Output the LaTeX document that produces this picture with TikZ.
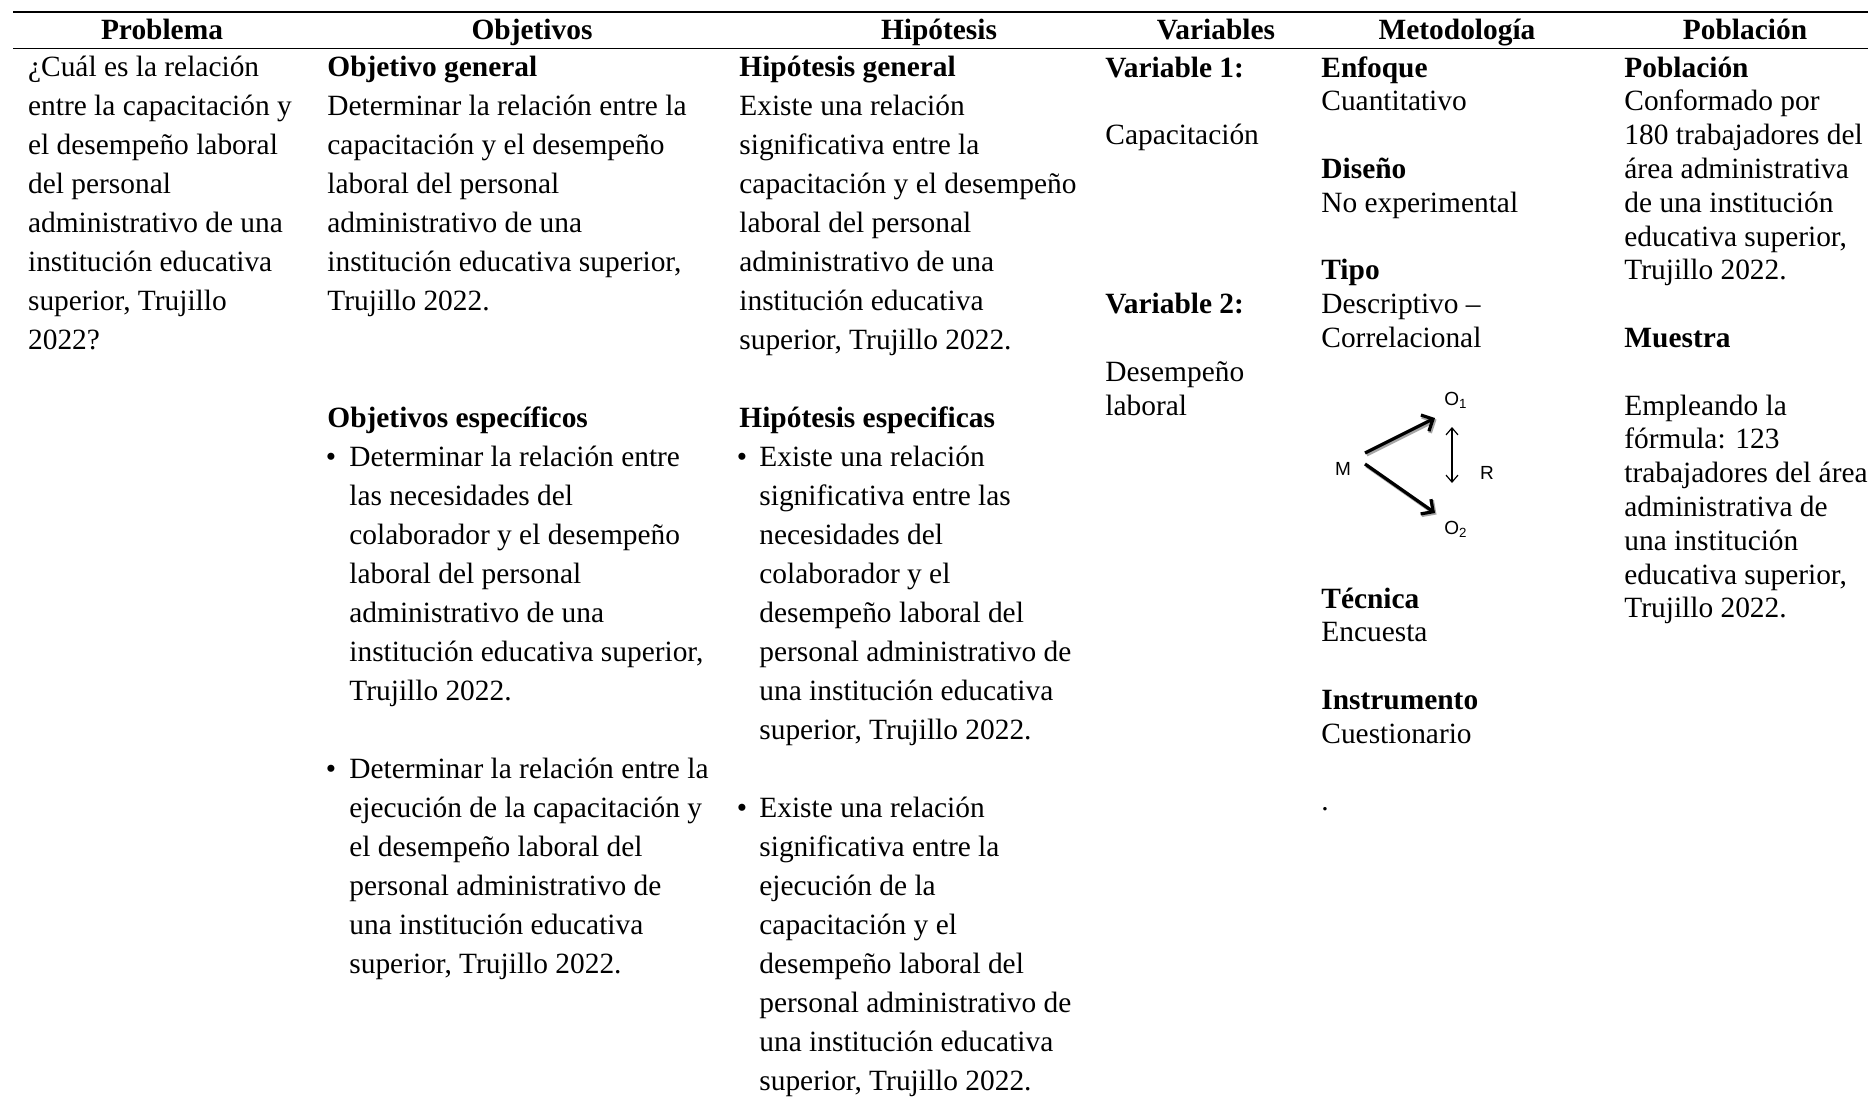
\documentclass[tikz,border=0pt]{standalone}
\usepackage{fontspec}
\setmainfont{Liberation Serif}
\newfontfamily\diagfont{Liberation Sans}
\usetikzlibrary{arrows.meta}
\newcommand{\mylines}[1]{\begin{tabular}[t]{@{}l@{}}#1\end{tabular}}
\tikzset{
  body/.style={anchor=base west, inner sep=0pt, font=\fontsize{14.7}{19.5}\selectfont},
  bodyb/.style={anchor=base west, inner sep=0pt, font=\fontsize{14.7}{16.9}\selectfont},
  head/.style={anchor=base, inner sep=0pt, font=\fontsize{14.7}{16.8}\selectfont\bfseries},
  bul/.style={anchor=base, inner sep=0pt, font=\fontsize{14.7}{19.5}\selectfont},
  hrule/.style={line width=0.85pt},
  dlab/.style={inner sep=0pt, font=\diagfont\fontsize{9.5}{10}\selectfont},
  thickarrow/.style={line width=1.6pt, -{Straight Barb[length=4.5pt,width=9pt]}},
  shadowarrow/.style={line width=2pt, draw=black!35, -{Straight Barb[length=4.5pt,width=9pt]}},
  thinarrow/.style={line width=0.6pt, {Straight Barb[length=3.5pt,width=6pt]}-{Straight Barb[length=3.5pt,width=6pt]}}
}
\begin{document}
\begin{tikzpicture}[x=0.5pt,y=-0.5pt]
\useasboundingbox (0,0) rectangle (1868,1098);
\fill[white] (0,0) rectangle (1868,1098);

% rules
\draw[hrule] (13,12) -- (1868,12);
\draw[hrule] (13,48.5) -- (1868,48.5);

% headers
\node[head] (hProb) at (162,39.5) {Problema};
\node[head] (hObj)  at (532,39.5) {Objetivos};
\node[head] (hHip)  at (939,39.5) {Hipótesis};
\node[head] (hVar)  at (1216,39.5) {Variables};
\node[head] (hMet)  at (1457,39.5) {Metodología};
\node[head] (hPob)  at (1745,39.5) {Población};

% column 1
\node[body] (prob) at (27.7,76.5) {\mylines{¿Cuál es la relación\\entre la capacitación y\\el desempeño laboral\\del personal\\administrativo de una\\institución educativa\\superior, Trujillo\\2022?}};

% column 2
\node[body] (ogen) at (327,76.5) {\mylines{\textbf{Objetivo general}\\Determinar la relación entre la\\capacitación y el desempeño\\laboral del personal\\administrativo de una\\institución educativa superior,\\Trujillo 2022.}};
\node[body] (oesp) at (327,427.5) {\textbf{Objetivos específicos}};
\node[bul] (ob1) at (331,466.5) {\textbullet};
\node[body] (oe1) at (349,466.5) {\mylines{Determinar la relación entre\\las necesidades del\\colaborador y el desempeño\\laboral del personal\\administrativo de una\\institución educativa superior,\\Trujillo 2022.}};
\node[bul] (ob2) at (331,778.5) {\textbullet};
\node[body] (oe2) at (349,778.5) {\mylines{Determinar la relación entre la\\ejecución de la capacitación y\\el desempeño laboral del\\personal administrativo de\\una institución educativa\\superior, Trujillo 2022.}};

% column 3
\node[body] (hgen) at (739,76.5) {\mylines{\textbf{Hipótesis general}\\Existe una relación\\significativa entre la\\capacitación y el desempeño\\laboral del personal\\administrativo de una\\institución educativa\\superior, Trujillo 2022.}};
\node[body] (hesp) at (739,427.5) {\textbf{Hipótesis especificas}};
\node[bul] (hb1) at (742,466.5) {\textbullet};
\node[body] (he1) at (759,466.5) {\mylines{Existe una relación\\significativa entre las\\necesidades del\\colaborador y el\\desempeño laboral del\\personal administrativo de\\una institución educativa\\superior, Trujillo 2022.}};
\node[bul] (hb2) at (742,817.5) {\textbullet};
\node[body] (he2) at (759,817.5) {\mylines{Existe una relación\\significativa entre la\\ejecución de la\\capacitación y el\\desempeño laboral del\\personal administrativo de\\una institución educativa\\superior, Trujillo 2022.}};

% column 4
\node[bodyb] (vars) at (1105,77) {\mylines{\textbf{Variable 1:}\\ \\Capacitación\\ \\ \\ \\ \\\textbf{Variable 2:}\\ \\Desempeño\\laboral}};

% column 5
\node[bodyb] (met) at (1321,77) {\mylines{\textbf{Enfoque}\\Cuantitativo\\ \\\textbf{Diseño}\\No experimental\\ \\\textbf{Tipo}\\Descriptivo –\\Correlacional}};
\node[bodyb] (met2) at (1321,608) {\mylines{\textbf{Técnica}\\Encuesta\\ \\\textbf{Instrumento}\\Cuestionario\\ \\.}};

% diagram
\node[dlab] (M)  at (1343,469) {M};
\node[dlab] (O1) at (1456,400) {O\textsubscript{1}};
\node[dlab] (O2) at (1456,529) {O\textsubscript{2}};
\node[dlab] (R)  at (1487,473) {R};
\draw[shadowarrow] ([shift={(23.5,-14.5)}]M.center) -- ([shift={(-19.5,19.5)}]O1.center);
\draw[shadowarrow] ([shift={(23.5,-3.5)}]M.center) -- ([shift={(-19.5,-14.5)}]O2.center);
\draw[thickarrow] ([shift={(22,-16)}]M.center) -- ([shift={(-21,18)}]O1.center);
\draw[thickarrow] ([shift={(22,-5)}]M.center) -- ([shift={(-21,-16)}]O2.center);
\draw[thinarrow] ([shift={(-4,27)}]O1.center) -- ([shift={(-4,-46)}]O2.center);

% column 6
\node[bodyb] (pob) at (1624,77) {\mylines{\textbf{Población}\\Conformado por\\180 trabajadores del\\área administrativa\\de una institución\\educativa superior,\\Trujillo 2022.\\ \\\textbf{Muestra}\\ \\Empleando la\\fórmula: 123\\trabajadores del área\\administrativa de\\una institución\\educativa superior,\\Trujillo 2022.}};
\end{tikzpicture}
\end{document}
